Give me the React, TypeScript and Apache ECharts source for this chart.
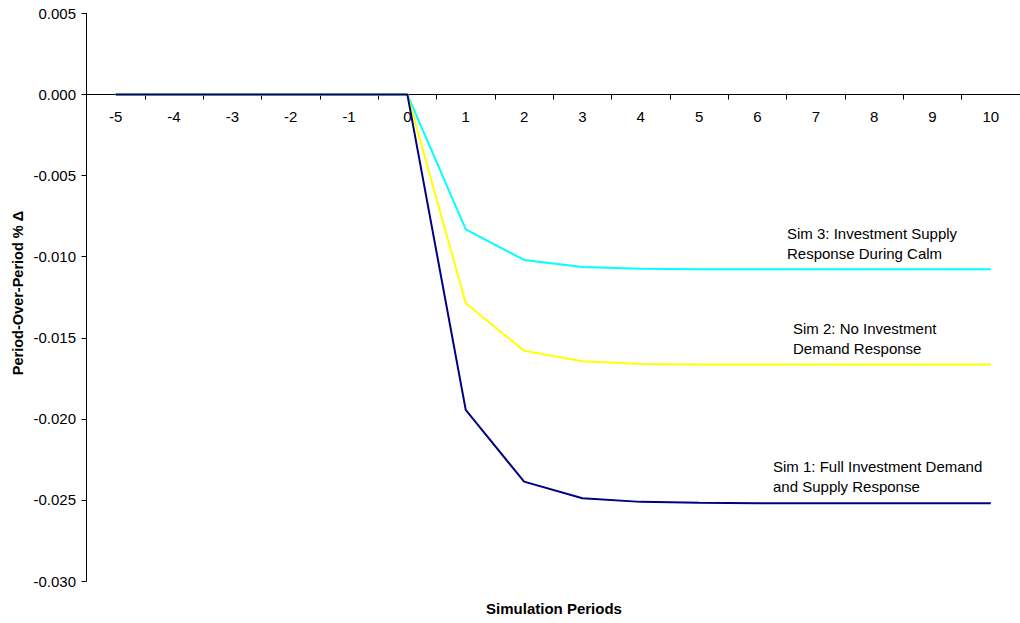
import React, { useEffect, useRef } from "react";
import * as echarts from "echarts";

const periods = ["-5", "-4", "-3", "-2", "-1", "0", "1", "2", "3", "4", "5", "6", "7", "8", "9", "10"];
const sim1 = [0, 0, 0, 0, 0, 0, -0.01945, -0.02387, -0.0249, -0.02512, -0.02518, -0.0252, -0.02521, -0.02521, -0.02521, -0.02521];
const sim2 = [0, 0, 0, 0, 0, 0, -0.01287, -0.0158, -0.01645, -0.01661, -0.01664, -0.01665, -0.01665, -0.01665, -0.01665, -0.01665];
const sim3 = [0, 0, 0, 0, 0, 0, -0.00831, -0.0102, -0.01064, -0.01074, -0.01077, -0.01078, -0.01078, -0.01078, -0.01078, -0.01078];

const FONT = "'Liberation Sans', Arial, sans-serif";
const GRID_TOP = 13.5;
const GRID_BOTTOM = 42;
const CHART_H = 623;
const Y_MIN = -0.03;
const Y_MAX = 0.005;

export default function App() {
  const ref = useRef<HTMLDivElement>(null);
  useEffect(() => {
    if (!ref.current) return;
    const chart = echarts.init(ref.current, undefined, { renderer: "svg" });
    const plotH = CHART_H - GRID_TOP - GRID_BOTTOM;
    // distance from the plot bottom up to the zero line
    const zeroOffset = -((0 - Y_MIN) / (Y_MAX - Y_MIN)) * plotH;
    const textStyle = (text: string, x: number, y: number) => ({
      type: "text",
      x,
      y,
      style: {
        text,
        fill: "#000",
        font: `15px ${FONT}`,
        lineHeight: 19.5,
        textAlign: "left",
        textVerticalAlign: "top",
      },
    });
    chart.setOption({
      animation: false,
      backgroundColor: "#fff",
      grid: { left: 86.5, right: -1.7, top: GRID_TOP, bottom: GRID_BOTTOM },
      xAxis: {
        type: "category",
        data: periods,
        boundaryGap: true,
        position: "bottom",
        offset: zeroOffset,
        axisLine: { onZero: false, lineStyle: { color: "#000", width: 1 } },
        axisTick: { show: true, length: 5, lineStyle: { color: "#000" } },
        axisLabel: { color: "#000", fontFamily: FONT, fontSize: 15, margin: 14 },
        splitLine: { show: false },
      },
      yAxis: {
        type: "value",
        min: Y_MIN,
        max: Y_MAX,
        interval: 0.005,
        axisLine: { show: true, onZero: false, lineStyle: { color: "#000", width: 1 } },
        axisTick: { show: true, length: 5, lineStyle: { color: "#000" } },
        axisLabel: {
          color: "#000",
          fontFamily: FONT,
          fontSize: 15,
          margin: 10.5,
          formatter: (v: number) => (Math.abs(v) < 1e-9 ? "0.000" : v.toFixed(3)),
        },
        splitLine: { show: false },
      },
      series: [
        { name: "Sim 3", type: "line", data: sim3, showSymbol: false, lineStyle: { color: "#00FFFF", width: 2 }, itemStyle: { color: "#00FFFF" } },
        { name: "Sim 2", type: "line", data: sim2, showSymbol: false, lineStyle: { color: "#FFFF00", width: 2 }, itemStyle: { color: "#FFFF00" } },
        { name: "Sim 1", type: "line", data: sim1, showSymbol: false, lineStyle: { color: "#000080", width: 2 }, itemStyle: { color: "#000080" } },
      ],
      graphic: [
        textStyle("Sim 3: Investment Supply\nResponse During Calm", 787, 224),
        textStyle("Sim 2: No Investment\nDemand Response", 793, 319),
        textStyle("Sim 1: Full Investment Demand\nand Supply Response", 773, 457),
        {
          type: "text",
          x: 554,
          y: 608,
          style: { text: "Simulation Periods", fill: "#000", font: `bold 15px ${FONT}`, textAlign: "center", textVerticalAlign: "middle" },
        },
        {
          type: "text",
          x: 18,
          y: 293,
          rotation: Math.PI / 2,
          style: { text: "Period-Over-Period % Δ", fill: "#000", font: `bold 14.5px ${FONT}`, textAlign: "center", textVerticalAlign: "middle" },
        },
      ],
    });
    return () => chart.dispose();
  }, []);
  return <div ref={ref} style={{ position: "fixed", left: 0, top: 0, width: 1020, height: 623 }} />;
}
